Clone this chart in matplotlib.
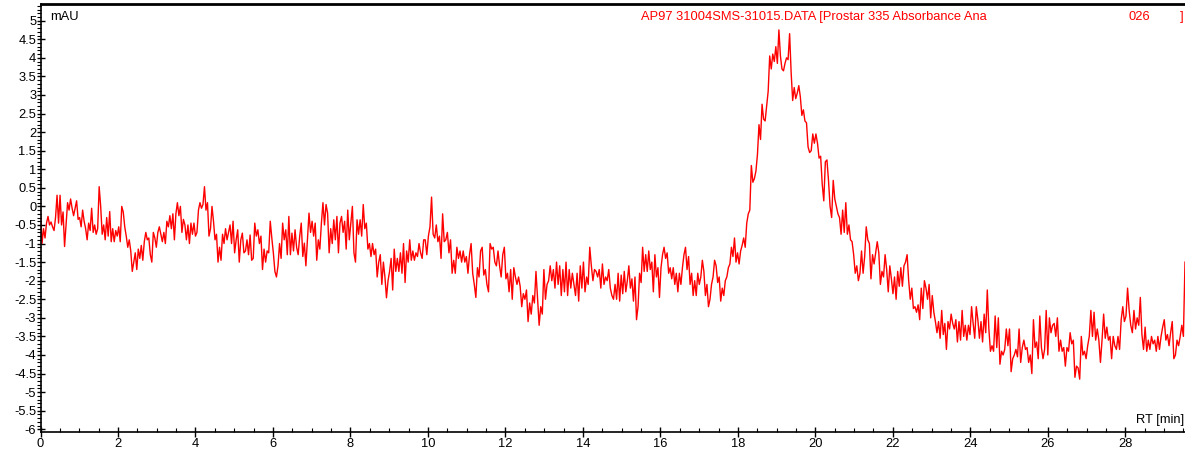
import numpy as np
import matplotlib
matplotlib.use("Agg")
import matplotlib.pyplot as plt
from matplotlib.ticker import MultipleLocator, FuncFormatter

plt.rcParams['font.family'] = ['Liberation Sans', 'DejaVu Sans']

# Segment time bounds (min) and absorbance values (mAU)
seg_bounds = [0.0, 4.97, 9.93, 14.83, 19.73, 24.64, 29.54]

seg1 = [-0.15, -1.0, -0.6, -0.85, -0.45, -0.27, -0.5, -0.42, -0.55, -0.65, -0.3, 0.3, -0.45, 0.3, -0.5,
        -0.15, -1.08, -0.5, 0.1, -0.1, 0.2, -0.05, -0.25, -0.05, 0.15, -0.35, -0.3, -0.55, -0.1, -0.4,
        -0.6, -0.9, -0.45, -0.65, -0.05, -0.7, -0.5, -0.75, -0.6, 0.53, 0.0, -0.75, -0.5, -0.9, -0.3,
        -0.8, -0.14, -0.95, -0.6, -0.95, -0.65, -0.8, -0.55, -0.95, 0.0, -0.15, -0.55, -0.8, -1.1, -0.9,
        -1.2, -1.75, -1.5, -1.25, -1.7, -1.15, -1.4, -1.05, -1.45, -0.95, -0.7, -0.9, -0.85, -1.3, -1.5,
        -0.7, -0.85, -1.1, -0.7, -0.55, -0.75, -0.95, -0.7, -1.0, -0.4, -0.55, -0.25, -0.6, -0.2, -0.9,
        -0.2, 0.1, -0.25, 0.0, -0.7, -0.35, -0.5, -0.9, -0.5, -1.0, -0.45, -0.75, -0.45, -0.8, -0.7,
        -0.1, 0.1, -0.05, 0.05, 0.53, -0.1, 0.1, -0.8, -0.6, 0.0, -0.4, -0.9, -0.75, -1.5, -1.1,
        -1.45, -0.75, -1.0, -0.6, -0.9, -0.7, -0.5, -1.0]

seg2 = [-0.4, -1.25, -0.9, -0.63, -1.5, -0.9, -0.72, -1.25, -1.2, -0.9, -1.3, -0.77, -1.45, -1.4, -0.45,
        -0.8, -0.63, -1.0, -0.8, -1.7, -1.15, -1.5, -1.2, -1.25, -0.4, -0.85, -1.25, -1.75, -1.9, -1.6,
        -1.0, -1.4, -0.45, -0.9, -0.63, -1.3, -0.27, -1.3, -0.72, -1.2, -0.63, -1.1, -1.3, -0.81, -0.45,
        -1.35, -0.99, -1.6, -0.9, -0.18, -0.7, -0.4, -0.8, -0.45, -1.45, -0.9, -1.15, -0.45, 0.1, -0.5,
        0.05, -0.18, -1.25, -0.6, -1.0, -0.36, -0.9, -0.27, -1.25, -0.45, -0.27, -0.7, -0.4, -1.15, -0.1,
        -0.9, -0.45, 0.0, -1.25, -1.5, -0.36, -0.75, -0.36, -0.8, 0.05, -0.6, -0.45, -1.15, -1.0, -1.35,
        -1.0, -1.3, -1.15, -1.9, -1.5, -1.3, -2.1, -1.5, -1.9, -2.46, -2.0, -1.75, -1.4, -2.25, -1.15,
        -1.75, -1.4, -1.75, -1.25, -1.8, -1.0, -2.05, -1.2, -1.5, -0.9, -1.45, -1.2, -1.45, -1.25, -1.35,
        -1.0, -1.25, -1.4, -0.9]

seg3 = [-0.9, -1.3, -0.8, -0.55, 0.25, -0.75, -0.85, -0.5, -0.95, -0.8, -1.4, -0.2, -0.95, -0.9, -0.7,
        -1.25, -0.9, -1.8, -1.45, -1.8, -1.1, -1.4, -1.2, -1.5, -1.2, -1.5, -1.35, -1.8, -1.3, -1.0,
        -1.8, -2.1, -2.45, -1.65, -1.9, -1.2, -1.1, -1.85, -1.7, -2.1, -2.3, -1.0, -1.15, -1.1, -1.5,
        -1.6, -1.2, -1.6, -1.9, -1.3, -1.1, -1.95, -1.8, -2.3, -1.7, -2.5, -1.65, -1.9, -2.1, -1.9,
        -2.15, -2.7, -2.35, -2.5, -2.25, -3.1, -2.6, -2.9, -2.4, -2.6, -1.75, -2.5, -3.2, -2.7, -2.9,
        -1.7, -2.5, -2.1, -2.0, -1.6, -2.0, -1.7, -2.2, -1.5, -2.1, -1.6, -2.4, -1.7, -2.3, -1.5,
        -2.4, -1.7, -2.2, -1.8, -2.1, -2.4, -1.8, -2.55, -1.6, -2.2, -1.5, -2.3, -1.9, -2.1, -1.1,
        -1.6, -2.0, -1.7, -1.75, -1.9, -1.7, -2.2, -1.55, -2.1, -1.9, -2.0, -1.7, -2.2, -2.4, -2.5]

seg4 = [-2.1, -2.5, -1.8, -2.55, -1.85, -2.35, -1.75, -2.3, -2.0, -1.6, -2.2, -1.95, -2.55, -1.9, -3.05,
        -2.7, -1.8, -2.05, -1.1, -1.75, -1.3, -1.75, -1.2, -1.7, -1.5, -2.3, -1.3, -1.9, -1.65, -2.45,
        -1.65, -1.3, -1.1, -1.4, -1.25, -1.8, -1.65, -1.95, -1.65, -2.1, -1.8, -2.3, -1.8, -2.1, -1.65,
        -1.3, -1.1, -1.7, -1.35, -2.1, -1.8, -2.4, -2.0, -2.4, -1.8, -2.1, -1.9, -1.45, -1.75, -2.4,
        -2.1, -2.7, -2.5, -2.1, -1.9, -1.45, -1.6, -2.05, -1.9, -2.55, -2.2, -2.4, -2.0, -1.9, -1.65,
        -1.55, -1.1, -1.35, -0.85, -1.5, -1.25, -1.55, -1.2, -1.05, -0.85, -1.1, -0.45, -0.2, -0.1, 1.1,
        0.65, 0.75, 0.95, 1.4, 2.2, 1.8, 2.75, 2.35, 2.3, 2.7, 3.1, 4.05, 3.7, 4.1, 3.9,
        4.3, 3.85, 4.75, 4.05, 3.7, 3.65, 3.85, 4.0, 3.95, 4.65, 3.6, 2.85, 3.2, 2.9, 3.05,
        3.25, 2.95, 2.45, 2.6]

seg5 = [2.3, 2.25, 1.6, 1.45, 1.5, 1.95, 1.7, 1.95, 1.7, 1.3, 1.35, 0.6, 0.15, 1.2, 1.25,
        0.7, 0.0, -0.3, 0.7, 0.2, 0.0, -0.2, -0.3, -0.75, -0.1, -0.7, 0.1, -0.75, -0.5, -0.9,
        -0.95, -1.3, -1.8, -1.6, -2.0, -1.8, -1.2, -1.8, -1.35, -0.55, -0.9, -1.0, -1.95, -1.3, -1.55,
        -1.25, -0.95, -1.25, -2.1, -1.75, -1.9, -1.3, -1.7, -2.3, -1.6, -1.95, -2.35, -1.9, -2.5, -1.75,
        -2.15, -1.65, -2.15, -1.6, -1.5, -1.3, -2.0, -2.5, -2.2, -2.75, -2.7, -2.85, -2.65, -3.05, -2.2,
        -2.75, -2.0, -2.2, -2.5, -2.1, -3.0, -2.4, -2.85, -3.1, -3.4, -3.1, -3.55, -2.8, -3.45, -3.15,
        -3.85, -3.1, -3.3, -2.9, -3.15, -3.3, -3.05, -3.65, -3.1, -3.6, -2.8, -3.5, -3.2, -3.6, -3.2,
        -3.45, -2.7, -3.15, -3.55, -2.7, -3.05, -3.55, -3.1, -3.65, -2.9, -3.4, -2.25, -3.3, -3.9, -3.75,
        -3.9]

seg6 = [-2.95, -3.8, -3.0, -4.25, -3.9, -4.0, -3.85, -3.3, -3.75, -3.3, -4.45, -4.1, -4.0, -3.85, -4.05,
        -3.3, -4.2, -3.8, -3.6, -3.85, -3.8, -4.2, -4.0, -4.5, -3.05, -3.8, -3.65, -4.1, -2.95, -3.8,
        -4.1, -3.85, -2.8, -4.0, -3.0, -3.4, -3.2, -3.15, -3.5, -3.0, -3.9, -3.6, -3.9, -3.8, -4.3,
        -3.8, -3.9, -3.4, -3.7, -3.6, -4.6, -4.3, -4.35, -4.65, -3.5, -4.0, -3.9, -4.1, -3.75, -3.5,
        -2.8, -3.5, -2.85, -3.6, -3.3, -3.6, -4.2, -3.6, -2.9, -3.55, -3.25, -3.6, -3.5, -4.1, -3.5,
        -3.75, -3.85, -3.5, -3.85, -3.05, -2.7, -3.1, -2.95, -2.2, -2.8, -3.2, -3.4, -2.8, -3.3, -3.0,
        -3.2, -2.45, -3.45, -3.85, -3.25, -3.9, -3.6, -3.85, -3.5, -3.7, -3.6, -3.9, -3.5, -3.85, -3.5,
        -3.25, -3.05, -3.6, -3.45, -3.75, -3.4, -3.1, -4.1, -4.0, -3.6, -3.75, -3.5, -3.2, -3.5, -1.5]

segments = [seg1, seg2, seg3, seg4, seg5, seg6]

x_major = [0, 2, 4, 6, 8, 10, 12, 14, 16, 18, 20, 22, 24, 26, 28]

title_text = "AP97 31004SMS-31015.DATA [Prostar 335 Absorbance Ana"
title_tail = "026"
y_unit = "mAU"
x_unit = "RT [min]"

# Build the time axis per segment (uniform sampling inside each segment)
times, vals = [], []
for i, seg in enumerate(segments):
    last = (i == len(segments) - 1)
    t = np.linspace(seg_bounds[i], seg_bounds[i + 1], len(seg), endpoint=last)
    times.append(t)
    vals.append(np.asarray(seg, dtype=float))
time = np.concatenate(times)
signal = np.concatenate(vals)

FS = 9.3

fig = plt.figure(figsize=(11.85, 4.5), dpi=100)
ax = fig.add_axes([40.5 / 1185, 1 - 431.7 / 450, (1185 - 40.5) / 1185, (431.7 - 4.3) / 450])

ax.plot(time, signal, color='#ff0000', linewidth=1.0)

ax.set_xlim(0, 29.54)
ax.set_ylim(-6.065, 5.44)

ax.set_xticks(x_major)
ax.xaxis.set_minor_locator(MultipleLocator(0.5))
ax.yaxis.set_major_locator(MultipleLocator(0.5))
ax.yaxis.set_minor_locator(MultipleLocator(0.1))

def yfmt(v, pos):
    return '%g' % round(v, 2)
ax.yaxis.set_major_formatter(FuncFormatter(yfmt))

ax.tick_params(axis='y', which='major', direction='inout', length=6, width=1, labelsize=FS, pad=0)
ax.tick_params(axis='y', which='minor', direction='out', length=3, width=0.8)
ax.tick_params(axis='x', which='major', direction='inout', length=7, width=1, labelsize=FS, pad=1)
ax.tick_params(axis='x', which='minor', direction='in', length=3, width=0.8)

ax.spines['right'].set_visible(False)
for side in ['left', 'bottom']:
    ax.spines[side].set_linewidth(1.2)
ax.spines['top'].set_linewidth(2.0)

ax.text(0.0083, 0.970, y_unit, transform=ax.transAxes, fontsize=FS, va='center', ha='left')
ax.text(0.999, 0.027, x_unit, transform=ax.transAxes, fontsize=FS, va='center', ha='right')
ax.text(0.5247, 0.970, title_text, transform=ax.transAxes, fontsize=FS, va='center', ha='left', color='#ff0000')
ax.text(0.951, 0.970, title_tail, transform=ax.transAxes, fontsize=FS, va='center', ha='left', color='#ff0000')
ax.text(0.9955, 0.970, "]", transform=ax.transAxes, fontsize=FS, va='center', ha='left', color='#ff0000')

fig.savefig("out.png", dpi=100)
